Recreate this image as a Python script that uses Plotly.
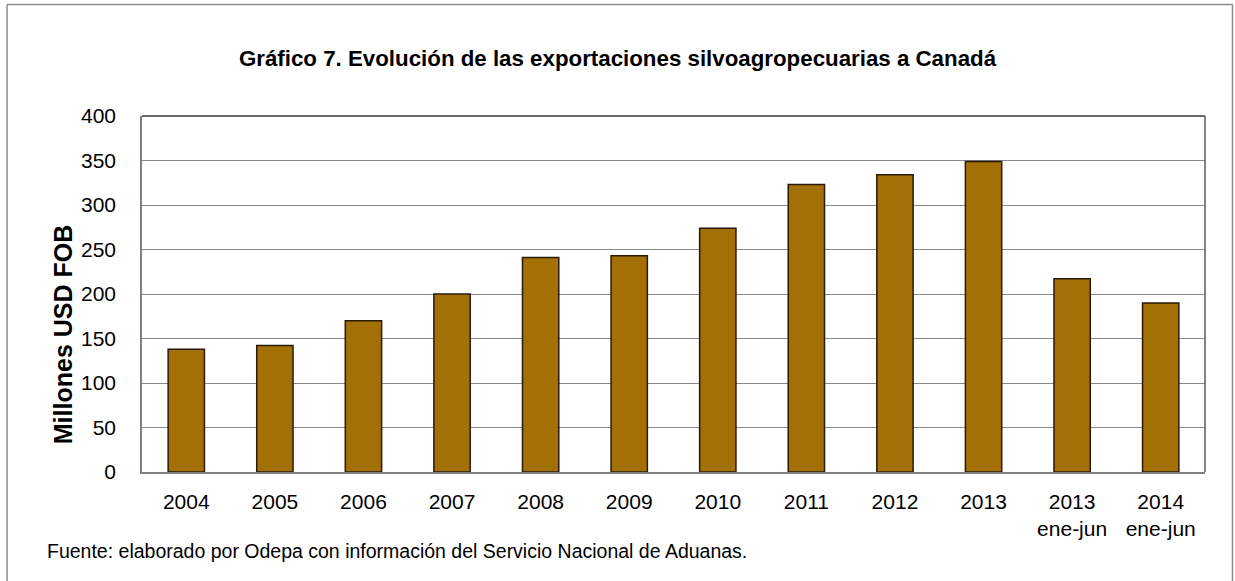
import plotly.graph_objects as go

categories = ["2004", "2005", "2006", "2007", "2008", "2009", "2010", "2011",
              "2012", "2013", "2013<br>ene-jun", "2014<br>ene-jun"]
values = [138, 142, 170, 200, 241, 243, 274, 323, 334, 349, 217, 190]
y_ticks = [0, 50, 100, 150, 200, 250, 300, 350, 400]

title_text = "Gráfico 7. Evolución de las exportaciones silvoagropecuarias a Canadá"
y_title = "Millones USD FOB"
source_text = "Fuente: elaborado por Odepa con información del Servicio Nacional de Aduanas."

W, H = 1235, 581
L, R, T, B = 142, 1205.5, 116, 471.7

def px(x):
    return (x - L) / (R - L)

def py(y):
    return (B - y) / (B - T)

FONT = "Liberation Sans, Arial, sans-serif"

fig = go.Figure()
fig.add_trace(go.Bar(
    x=categories, y=values,
    marker=dict(color="#A37006", line=dict(color="#2a1a08", width=1.5)),
    width=0.41,
))

fig.update_layout(
    width=W, height=H,
    margin=dict(l=L, r=W - R, t=T, b=H - B, autoexpand=False),
    paper_bgcolor="white", plot_bgcolor="white",
    showlegend=False,
    font=dict(family=FONT, color="black", size=21),
    title=dict(text="<b>" + title_text + "</b>", xref="container", x=0.5,
               yref="container", y=1 - 58 / H, xanchor="center", yanchor="middle",
               font=dict(family=FONT, size=22.3, color="black")),
    bargap=0.59,
)

fig.update_xaxes(
    type="category", showline=True, linecolor="#808080", linewidth=1.5,
    mirror=False, ticks="", ticklabelstandoff=10,
    tickfont=dict(family=FONT, size=21, color="black"), showgrid=False,
)
fig.update_yaxes(
    range=[0, 400], tickvals=y_ticks, showline=True, linecolor="#808080",
    linewidth=1.5, mirror=False, ticks="", ticklabelstandoff=20,
    showgrid=True, gridcolor="#8a8a8a", gridwidth=1.2, zeroline=False,
    tickfont=dict(family=FONT, size=21, color="black"),
)

shapes = [
    dict(type="line", xref="paper", yref="paper", x0=0, x1=1, y0=1, y1=1,
         line=dict(color="#3a3a3a", width=1.5)),
    dict(type="line", xref="paper", yref="paper", x0=1, x1=1, y0=0, y1=1,
         line=dict(color="#5a5a5a", width=1.5)),
    dict(type="line", xref="paper", yref="paper", x0=px(7), x1=px(1233),
         y0=py(4.5), y1=py(4.5), line=dict(color="#8c8c8c", width=1.5)),
    dict(type="line", xref="paper", yref="paper", x0=px(7), x1=px(7),
         y0=py(4.5), y1=py(600), line=dict(color="#8c8c8c", width=1.5)),
    dict(type="line", xref="paper", yref="paper", x0=px(1233), x1=px(1233),
         y0=py(4.5), y1=py(600), line=dict(color="#8c8c8c", width=1.5)),
]
fig.update_layout(shapes=shapes)

fig.add_annotation(
    text="<b>" + y_title + "</b>", xref="paper", yref="paper",
    x=px(63), y=py(335), textangle=-90, showarrow=False,
    xanchor="center", yanchor="middle",
    font=dict(family=FONT, size=25, color="black"),
)
fig.add_annotation(
    text=source_text, xref="paper", yref="paper",
    x=px(45), y=py(551), showarrow=False, xanchor="left", yanchor="middle",
    font=dict(family=FONT, size=19.5, color="black"),
)

fig.write_html("out.html", config={"displayModeBar": False},
               post_script="document.body.style.margin='0';")
